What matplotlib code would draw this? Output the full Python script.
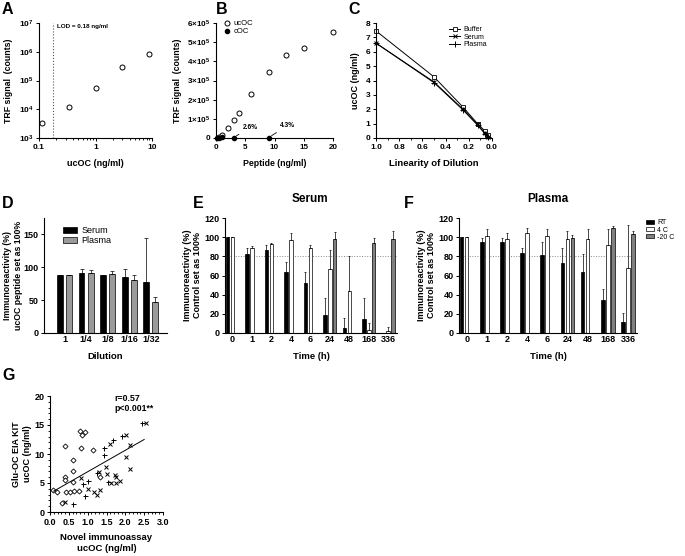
import numpy as np
import matplotlib
matplotlib.use('Agg')
import matplotlib.pyplot as plt
from matplotlib.ticker import MultipleLocator, NullLocator, LogLocator

plt.rcParams['font.family'] = ['Liberation Sans', 'DejaVu Sans']
plt.rcParams['font.weight'] = 'bold'
plt.rcParams['axes.labelweight'] = 'bold'
plt.rcParams['mathtext.fontset'] = 'custom'
plt.rcParams['mathtext.bf'] = 'Liberation Sans:bold'
plt.rcParams['mathtext.rm'] = 'Liberation Sans:bold'
plt.rcParams['mathtext.default'] = 'bf'

# ---- datos ----
# A) curva estandar
a_conc = [0.111, 0.333, 1, 3, 9]
a_senal = [3.3e3, 1.2e4, 5.5e4, 2.9e5, 8.2e5]
a_lod = 0.18

# B) especificidad
b_uc_x = [0.5, 1, 2, 3, 4, 6, 9, 12, 15, 20]
b_uc_y = [0.05e5, 0.15e5, 0.5e5, 0.93e5, 1.28e5, 2.3e5, 3.45e5, 4.32e5, 4.72e5, 5.55e5]
b_c_x = [0.25, 0.5, 1, 3, 9]
b_c_y = [0.01e5, 0.02e5, 0.03e5, 0.01e5, 0.02e5]

# C) linealidad de la dilucion
c_dil = [1.0, 0.5, 0.25, 0.125, 0.0625, 0.03125]
c_buffer = [7.45, 4.25, 2.15, 1.0, 0.5, 0.2]
c_serum = [6.6, 3.9, 2.0, 0.95, 0.35, 0.1]
c_plasma = [6.6, 3.85, 1.95, 0.9, 0.3, 0.05]

# D) dilucion
d_cats = ['1', '1/4', '1/8', '1/16', '1/32']
d_serum = [88, 91, 88, 85, 78]
d_serum_err = [1, 6, 1, 13, 67]
d_plasma = [88, 92, 90, 81, 47]
d_plasma_err = [1, 4, 4, 8, 8]

# E, F) estabilidad
tiempos = ['0', '1', '2', '4', '6', '24', '48', '168', '336']
nan = np.nan
e_rt = [100, 82, 87, 63.5, 52, 19, 5.5, 14.5, nan]
e_rt_err = [0, 7, 5, 10.5, 12, 17.5, 10, 22, nan]
e_4c = [100, 89, 93, 97, 88.5, 67, 44, 3, 2]
e_4c_err = [0, 2, 1, 7.5, 3.5, 20, 36, 7, 4]
e_20c = [nan, nan, nan, nan, nan, 98.5, nan, 94, 98]
e_20c_err = [nan, nan, nan, nan, nan, 6.5, nan, 5, 8]

f_rt = [100, 95, 95, 83, 81.5, 73, 63.5, 34.5, 11]
f_rt_err = [0, 4, 4, 5.5, 13, 15.5, 19, 11, 9.5]
f_4c = [100, 101.5, 98, 104.5, 101.5, 98, 98, 92, 68]
f_4c_err = [0, 7, 6, 5, 7, 8, 10, 16.5, 45]
f_20c = [nan, nan, nan, nan, nan, 99, nan, 109.5, 103]
f_20c_err = [nan, nan, nan, nan, nan, 3.5, nan, 2.5, 3]

# G) correlacion
g_rombo_x = [0.08, 0.18, 0.31, 0.40, 0.40, 0.41, 0.42, 0.52, 0.60, 0.60, 0.60, 0.65, 0.78, 0.79, 0.81, 0.84, 0.93, 1.13, 1.32]
g_rombo_y = [3.8, 3.4, 1.6, 11.4, 6.0, 5.5, 3.5, 3.5, 8.9, 7.1, 5.1, 3.6, 3.6, 13.9, 11.0, 13.3, 13.8, 10.7, 6.0]
g_equis_x = [0.41, 0.83, 1.01, 1.17, 1.24, 1.32, 1.31, 1.48, 1.52, 1.59, 1.63, 1.72, 1.74, 1.75, 1.85, 2.01, 2.03, 2.12, 2.12, 2.56]
g_equis_y = [1.8, 5.9, 4.0, 3.5, 3.0, 3.8, 6.9, 7.8, 6.5, 11.8, 5.0, 6.4, 5.0, 6.0, 5.3, 13.3, 9.4, 11.6, 7.4, 15.4]
g_cruz_x = [0.60, 0.88, 0.93, 1.01, 1.24, 1.43, 1.43, 1.66, 1.92, 2.45, 1.55]
g_cruz_y = [1.3, 4.8, 2.7, 5.4, 6.7, 9.9, 11.1, 12.5, 13.1, 15.4, 5.1]
g_ajuste_x = [0.1, 2.5]
g_ajuste_y = [3.6, 12.5]

W, H = 685, 556
fig = plt.figure(figsize=(6.85, 5.56), dpi=100)


def ejes(x0, x1, y0, y1):
    return fig.add_axes([x0 / W, 1 - y1 / H, (x1 - x0) / W, (y1 - y0) / H])


def estilo(ax, fs=6):
    for s in ['top', 'right']:
        ax.spines[s].set_visible(False)
    for s in ['left', 'bottom']:
        ax.spines[s].set_linewidth(0.8)
    ax.tick_params(direction='out', length=2.5, width=0.7, labelsize=fs, pad=1.5)
    ax.tick_params(which='minor', length=1.5, width=0.6)


leyenda = {'size': 5, 'weight': 'normal'}

# ---- A ----
axA = ejes(39, 152, 23, 138)
estilo(axA)
axA.set_xscale('log')
axA.set_yscale('log')
axA.plot(a_conc, a_senal, 'o', mfc='white', mec='black', ms=3.6, mew=0.7, clip_on=False)
axA.axvline(a_lod, color='#555555', ls=':', lw=0.8)
axA.text(0.205, 9e6, 'LOD = 0.18 ng/ml', fontsize=4.5, va='top')
axA.set_xlim(0.1, 10)
axA.set_ylim(1e3, 1e7)
axA.set_xticks([0.1, 1, 10], ['0.1', '1', '10'])
axA.set_yticks([1e3, 1e4, 1e5, 1e6, 1e7], ['$10^{3}$', '$10^{4}$', '$10^{5}$', '$10^{6}$', '$10^{7}$'])
axA.xaxis.set_minor_locator(LogLocator(subs=np.arange(2, 10)))
axA.yaxis.set_minor_locator(NullLocator())
axA.set_xlabel('ucOC (ng/ml)', fontsize=6.5, labelpad=6)
axA.set_ylabel('TRF signal  (counts)', fontsize=6.3)

# ---- B ----
axB = ejes(216, 333, 23, 138)
estilo(axB, 5.8)
axB.plot(b_uc_x, b_uc_y, 'o', mfc='white', mec='black', ms=3.6, mew=0.7, clip_on=False, label='ucOC')
axB.plot(b_c_x, b_c_y, 'o', color='black', ms=3, clip_on=False, label='cOC')
axB.set_xlim(0, 20)
axB.set_ylim(0, 6e5)
axB.set_xticks([0, 5, 10, 15, 20])
axB.set_yticks(np.arange(0, 7e5, 1e5),
               ['0'] + [r'$%d{\times}10^{5}$' % i for i in range(1, 7)])
axB.annotate('2.6%', xy=(3.3, 0.08e5), xytext=(4.6, 0.55e5), fontsize=4.8,
             va='center', arrowprops=dict(arrowstyle='-', lw=0.6, shrinkA=1, shrinkB=1))
axB.annotate('4.3%', xy=(9.3, 0.08e5), xytext=(10.9, 0.65e5), fontsize=4.8,
             va='center', arrowprops=dict(arrowstyle='-', lw=0.6, shrinkA=1, shrinkB=1))
axB.legend(loc='upper left', bbox_to_anchor=(0.02, 1.06), frameon=False, prop={'size': 5.5, 'weight': 'normal'},
           handletextpad=0.3, labelspacing=0.1, borderpad=0, handlelength=1.2)
axB.set_xlabel('Peptide (ng/ml)', fontsize=6.3, labelpad=6)
axB.set_ylabel('TRF signal  (counts)', fontsize=6.3)

# ---- C ----
axC = ejes(376, 492, 23, 138)
estilo(axC)
axC.plot(c_dil, c_buffer, '-s', color='black', mfc='white', ms=3.4, mew=0.6, lw=0.7, clip_on=False, label='Buffer')
axC.plot(c_dil, c_serum, '-x', color='black', ms=3.4, mew=0.7, lw=0.7, clip_on=False, label='Serum')
axC.plot(c_dil, c_plasma, '-+', color='black', ms=3.8, mew=0.7, lw=0.7, clip_on=False, label='Plasma')
axC.set_xlim(1.0, 0.0)
axC.set_ylim(0, 8)
axC.set_xticks([1.0, 0.8, 0.6, 0.4, 0.2, 0.0])
axC.xaxis.set_minor_locator(MultipleLocator(0.1))
axC.set_yticks(range(0, 9))
axC.legend(loc='upper left', bbox_to_anchor=(0.6, 1.0), frameon=False, prop=leyenda,
           handletextpad=0.5, labelspacing=0.05, borderpad=0, handlelength=1.6)
axC.set_xlabel('Linearity of Dilution', fontsize=6.8, labelpad=6)
axC.set_ylabel('ucOC (ng/ml)', fontsize=6.5)

# ---- D ----
axD = ejes(44, 167, 218, 333)
estilo(axD, 6.5)
pos = np.arange(len(d_cats))
axD.bar(pos - 0.21, d_serum, 0.27, color='black', edgecolor='black', lw=0.5, label='Serum')
axD.bar(pos + 0.21, d_plasma, 0.27, color='#9a9a9a', edgecolor='black', lw=0.5, label='Plasma')
axD.errorbar(pos - 0.21, d_serum, yerr=[np.zeros(5), d_serum_err], fmt='none', ecolor='black',
             elinewidth=0.5, capsize=1.2, capthick=0.5)
axD.errorbar(pos + 0.21, d_plasma, yerr=[np.zeros(5), d_plasma_err], fmt='none', ecolor='black',
             elinewidth=0.5, capsize=1.2, capthick=0.5)
axD.set_xlim(-0.95, 4.75)
axD.set_ylim(0, 175)
axD.set_yticks([0, 50, 100, 150])
axD.set_xticks(pos, d_cats)
axD.tick_params(axis='x', length=0)
axD.legend(loc='upper left', bbox_to_anchor=(0.12, 0.97), frameon=False,
           prop={'size': 6.5, 'weight': 'normal'}, handletextpad=0.5, labelspacing=0.1,
           borderpad=0, handlelength=1.5, handleheight=0.6)
axD.set_xlabel('Dilution', fontsize=6.8, labelpad=6)
axD.set_ylabel('Immunoreactivity (%)\nucOC peptide set as 100%', fontsize=6.3, labelpad=0.5)


# ---- E y F ----
def barras(ax, rt, rt_e, c4, c4_e, c20, c20_e):
    p = np.arange(len(tiempos))
    for vals, errs, col, dx, lab in [(rt, rt_e, 'black', -0.25, 'RT'),
                                     (c4, c4_e, 'white', 0.0, '4 C'),
                                     (c20, c20_e, '#808080', 0.25, '-20 C')]:
        vals = np.array(vals, dtype=float)
        errs = np.array(errs, dtype=float)
        ax.bar(p + dx, np.nan_to_num(vals), 0.18, color=col, edgecolor='black', lw=0.5, label=lab)
        ax.errorbar(p + dx, vals, yerr=[np.zeros(len(errs)), errs], fmt='none', ecolor='black',
                    elinewidth=0.5, capsize=1, capthick=0.5)
    ax.axhline(80, color='#888888', ls=':', lw=0.7, zorder=0)
    ax.set_xlim(-0.38, 8.45)
    ax.set_ylim(0, 120)
    ax.set_yticks(range(0, 121, 20))
    ax.set_xticks(p, tiempos)
    ax.tick_params(axis='x', length=0)
    ax.set_xlabel('Time (h)', fontsize=6.8, labelpad=6)
    ax.set_ylabel('Immunoreactivity (%)\nControl set as 100%', fontsize=6.5, labelpad=1.5)


axE = ejes(225, 397, 218, 333)
estilo(axE, 6.5)
barras(axE, e_rt, e_rt_err, e_4c, e_4c_err, e_20c, e_20c_err)

axF = ejes(459, 637, 218, 333)
estilo(axF, 6.5)
barras(axF, f_rt, f_rt_err, f_4c, f_4c_err, f_20c, f_20c_err)
axF.legend(loc='upper left', bbox_to_anchor=(1.03, 1.02), frameon=False, prop=leyenda,
           handletextpad=0.4, labelspacing=0.05, borderpad=0, handlelength=1.2, handleheight=0.5)

# ---- G ----
axG = ejes(50, 163, 396, 512)
estilo(axG, 6.5)
axG.plot(g_rombo_x, g_rombo_y, 'D', mfc='white', mec='black', ms=2.6, mew=0.6, clip_on=False)
axG.plot(g_equis_x, g_equis_y, 'x', color='black', ms=3.2, mew=0.7, clip_on=False)
axG.plot(g_cruz_x, g_cruz_y, '+', color='black', ms=3.6, mew=0.7, clip_on=False)
axG.plot(g_ajuste_x, g_ajuste_y, color='black', lw=0.7)
axG.text(1.72, 20.3, 'r=0.57\np<0.001**', fontsize=6.3, va='top', linespacing=1.1)
axG.set_xlim(0, 3)
axG.set_ylim(0, 20)
axG.set_xticks(np.arange(0, 3.01, 0.5), ['%.1f' % v for v in np.arange(0, 3.01, 0.5)])
axG.set_yticks([0, 5, 10, 15, 20])
axG.xaxis.set_minor_locator(MultipleLocator(0.1))
axG.yaxis.set_minor_locator(MultipleLocator(1))
axG.set_xlabel('Novel immunoassay\nucOC (ng/ml)', fontsize=6.8, labelpad=5)
axG.set_ylabel('Glu-OC EIA KIT\nucOC (ng/ml)', fontsize=6.5, labelpad=2)

# ---- letras y titulos ----
for letra, x, y in [('A', 2, 2), ('B', 216, 2), ('C', 348, 2), ('D', 2, 196),
                    ('E', 193, 196), ('F', 404, 196), ('G', 2, 368)]:
    fig.text(x / W, 1 - y / H, letra, fontsize=11.5, fontweight='bold', va='top', ha='left')
fig.text(310 / W, 1 - 199 / H, 'Serum', fontsize=8.5, fontweight='bold', ha='center', va='center')
fig.text(548 / W, 1 - 199 / H, 'Plasma', fontsize=8.5, fontweight='bold', ha='center', va='center')

fig.savefig('out.png', dpi=100)
